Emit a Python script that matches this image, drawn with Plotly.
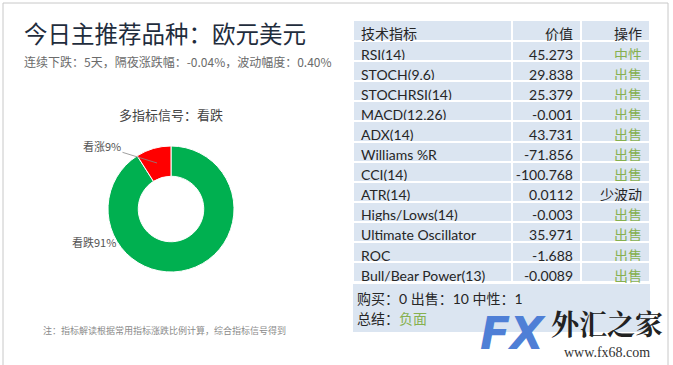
import plotly.graph_objects as go

W, H = 673, 365

title = "今日主推荐品种：欧元美元"
subtitle = "连续下跌：5天，隔夜涨跌幅：-0.04%，波动幅度：0.40%"
pie_title = "多指标信号：看跌"
note = "注：指标解读根据常用指标涨跌比例计算，综合指标信号得到"

signal_labels = ["看涨", "看跌"]
signal_values = [9, 91]
signal_colors = ["#ff0000", "#00b050"]

header = ["技术指标", "价值", "操作"]
indicators = ["RSI(14)", "STOCH(9,6)", "STOCHRSI(14)", "MACD(12,26)", "ADX(14)",
              "Williams %R", "CCI(14)", "ATR(14)", "Highs/Lows(14)",
              "Ultimate Oscillator", "ROC", "Bull/Bear Power(13)"]
values = ["45.273", "29.838", "25.379", "-0.001", "43.731", "-71.856", "-100.768",
          "0.0112", "-0.003", "35.971", "-1.688", "-0.0089"]
actions = ["中性", "出售", "出售", "出售", "出售", "出售", "出售", "少波动",
           "出售", "出售", "出售", "出售"]
summary_counts = [("购买", 0), ("出售", 10), ("中性", 1)]
summary_verdict = "负面"

FONT = "Lato, 'Noto Sans CJK SC', sans-serif"
CJK = "'Noto Sans CJK SC', sans-serif"
GREEN_TXT = "#86b04f"
FILL = "#dbe5f1"
DARK = "#262626"


def px(x):
    return x / W


def py(y):
    return 1 - y / H


fig = go.Figure()

# donut (drawn clockwise from 12 o'clock, bearish first so bullish ends at the top-left)
fig.add_trace(go.Pie(
    labels=signal_labels[::-1], values=signal_values[::-1],
    marker=dict(colors=signal_colors[::-1], line=dict(color="white", width=1)),
    hole=0.52, sort=False, direction="clockwise", rotation=0,
    textinfo="none", hoverinfo="label+percent", showlegend=False,
    domain=dict(x=[px(108), px(234)], y=[py(272), py(146)]),
))

# table
act_colors = [DARK if a == "少波动" else GREEN_TXT for a in actions]
fig.add_trace(go.Table(
    domain=dict(x=[px(353), px(650)], y=[py(345), py(20)]),
    columnwidth=[159, 69, 69],
    header=dict(values=header, fill_color=FILL, align=["left", "right", "right"],
                line=dict(color="white", width=2), height=21,
                font=dict(family=FONT, size=14, color=DARK)),
    cells=dict(values=[indicators, values, actions], fill_color=FILL,
               align=["left", "right", "right"],
               line=dict(color="white", width=2), height=20.1,
               font=dict(family=FONT, size=14,
                         color=[[DARK] * len(indicators), [DARK] * len(values), act_colors])),
))

shapes = [
    dict(type="rect", xref="paper", yref="paper", x0=px(3), x1=px(668), y0=py(372), y1=py(3),
         line=dict(color="#c8c8c8", width=1), fillcolor="rgba(0,0,0,0)", layer="below"),
    dict(type="rect", xref="paper", yref="paper", x0=px(353), x1=px(650), y0=py(332), y1=py(284),
         line=dict(width=0), fillcolor=FILL, layer="below"),
]

ann = []


def text(x, y, t, size, color, anchor="left", family=CJK, **kw):
    ann.append(dict(x=px(x), y=py(y), xref="paper", yref="paper", text=t, showarrow=False,
                    xanchor=anchor, yanchor="middle", font=dict(size=size, color=color, family=family), **kw))


text(22, 33, title, 23.5, "#1f2d3d")
text(22, 62, subtitle, 12, "#6b6b6b")
text(171, 115, pie_title, 13, "#444444", anchor="center")
text(164, 330, note, 9, "#8a8a8a", anchor="center")

# pie labels
tot = sum(signal_values)
ann.append(dict(x=px(157), y=py(163), xref="paper", yref="paper",
                text=f"{signal_labels[0]}{round(100 * signal_values[0] / tot)}%",
                showarrow=True, arrowhead=0, arrowwidth=0.8, arrowcolor="#888888",
                ax=-55, ay=-17, font=dict(size=11, color="#555555", family=CJK)))
text(70, 242, f"{signal_labels[1]}{round(100 * signal_values[1] / tot)}%", 11, "#555555")

# summary
counts = " ".join(f"{k}：{v}" for k, v in summary_counts)
text(355, 298, counts, 14, DARK, family=FONT)
text(355, 318, f"总结：<span style='color:{GREEN_TXT}'>{summary_verdict}</span>", 14, DARK, family=FONT)

# watermark
ann.append(dict(x=px(513), y=py(333), xref="paper", yref="paper", text="<b><i>FX</i></b>", showarrow=False,
                xanchor="center", yanchor="middle",
                font=dict(size=44, color="#4f7fd6", family="'DejaVu Sans', sans-serif")))
ann.append(dict(x=px(607), y=py(323), xref="paper", yref="paper", text="<b>外汇之家</b>", showarrow=False,
                xanchor="center", yanchor="middle",
                font=dict(size=28, color="#222222", family="'Noto Serif CJK SC', 'Noto Sans CJK SC', serif")))
ann.append(dict(x=px(607), y=py(352), xref="paper", yref="paper", text="www.fx68.com", showarrow=False,
                xanchor="center", yanchor="middle",
                font=dict(size=14, color="#333333", family="'Liberation Serif', serif")))

fig.update_layout(width=W, height=H, margin=dict(l=0, r=0, t=0, b=0),
                  paper_bgcolor="white", plot_bgcolor="white",
                  shapes=shapes, annotations=ann)

fig.write_html("out.html", config={"displayModeBar": False},
               post_script="document.body.style.margin='0';document.body.style.overflow='hidden';")
